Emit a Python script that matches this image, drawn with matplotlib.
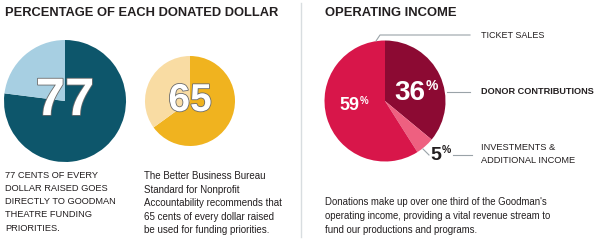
import matplotlib
matplotlib.use("Agg")
import matplotlib.pyplot as plt
import matplotlib.patheffects as pe

# donated dollar pies
donated_vals = [77, 65]
donated_cols = [("#0d566b", "#a7cfe2"), ("#f0b31f", "#f9dca3")]

# operating income pie (clockwise from 12 o'clock)
income_labels = ["DONOR CONTRIBUTIONS", "INVESTMENTS &\nADDITIONAL INCOME", "TICKET SALES"]
income_vals = [36, 5, 59]
income_cols = ["#8c0a33", "#ee6080", "#d8164a"]

left_notes = [
    "77 CENTS OF EVERY\nDOLLAR RAISED GOES\nDIRECTLY TO GOODMAN\nTHEATRE FUNDING\nPRIORITIES.",
    "The Better Business Bureau\nStandard for Nonprofit\nAccountability recommends that\n65 cents of every dollar raised\nbe used for funding priorities.",
]
right_note = ("Donations make up over one third of the Goodman's\n"
              "operating income, providing a vital revenue stream to\n"
              "fund our productions and programs.")

plt.rcParams["font.family"] = ["Liberation Sans", "DejaVu Sans"]

H = 240
def Y(y):
    return H - y

fig = plt.figure(figsize=(6, 2.4), dpi=100)
ax = fig.add_axes([0, 0, 1, 1])

txt = "#231f20"

# donated dollar pies
centers = [(65, 101, 61), (190, 101, 45)]
sizes = [38, 28]
for v, (c1, c2), (cx, cy, r) in zip(donated_vals, donated_cols, centers):
    ax.pie([v, 100 - v], colors=[c1, c2], startangle=90, counterclock=False,
           center=(cx, Y(cy)), radius=r, wedgeprops=dict(linewidth=0))

# operating income pie
icx, icy, ir = 385, 101, 60.5
ax.pie(income_vals, colors=income_cols, startangle=90, counterclock=False,
       center=(icx, Y(icy)), radius=ir, wedgeprops=dict(linewidth=0))

ax.set_xlim(0, 600)
ax.set_ylim(0, H)
ax.set_aspect("equal")
ax.axis("off")

for v, (cx, cy, r), fs in zip(donated_vals, centers, sizes):
    ax.text(cx, Y(cy), str(v), fontsize=fs, fontweight="bold", color="white",
            ha="center", va="center",
            path_effects=[pe.withStroke(linewidth=1.2, foreground="#6b6b6b")])

# titles
ax.text(5, Y(13), "PERCENTAGE OF EACH DONATED DOLLAR", fontsize=9.3, fontweight="bold",
        color=txt, va="center", ha="left")
ax.text(325, Y(13), "OPERATING INCOME", fontsize=9.4, fontweight="bold",
        color=txt, va="center", ha="left")

# divider
ax.plot([301, 301], [Y(3), Y(237)], color="#d8dde0", lw=1)

# notes below
ax.text(5, Y(171), left_notes[0], fontsize=6.7, color=txt, va="top", ha="left", linespacing=1.59)
ax.text(144, Y(171), left_notes[1], fontsize=7.0, color=txt, va="top", ha="left", linespacing=1.45)

# percentage labels
ax.text(410, Y(93), str(income_vals[0]), fontsize=20, fontweight="bold", color="white",
        ha="center", va="center")
ax.text(426, Y(86), "%", fontsize=10, fontweight="bold", color="white", ha="left", va="center")
ax.text(349, Y(105), str(income_vals[2]), fontsize=13, fontweight="bold", color="white",
        ha="center", va="center")
ax.text(360, Y(101), "%", fontsize=7, fontweight="bold", color="white", ha="left", va="center")
ax.text(436, Y(155), str(income_vals[1]), fontsize=14, fontweight="bold", color=txt,
        ha="center", va="center")
ax.text(442, Y(150), "%", fontsize=7.5, fontweight="bold", color=txt, ha="left", va="center")

# leader lines
lc = "#9aa3a8"
ax.plot([376, 380, 470], [Y(41), Y(35), Y(35)], color=lc, lw=0.8)
ax.plot([447, 470], [Y(92), Y(92)], color=lc, lw=0.8)
ax.plot([423, 429], [Y(149), Y(155)], color=lc, lw=0.8)
ax.plot([453, 472], [Y(155), Y(155)], color=lc, lw=0.8)

# category labels
ax.text(481, Y(35), income_labels[2], fontsize=6.5, color=txt, va="center", ha="left")
ax.text(481, Y(92), income_labels[0], fontsize=6.6, fontweight="bold", color=txt, va="center", ha="left")
ax.text(481, Y(154), income_labels[1], fontsize=6.7, color=txt, va="center", ha="left", linespacing=1.43)

ax.text(325, Y(197), right_note, fontsize=6.9, color=txt, va="top", ha="left", linespacing=1.5)

fig.savefig("out.png", dpi=100)
